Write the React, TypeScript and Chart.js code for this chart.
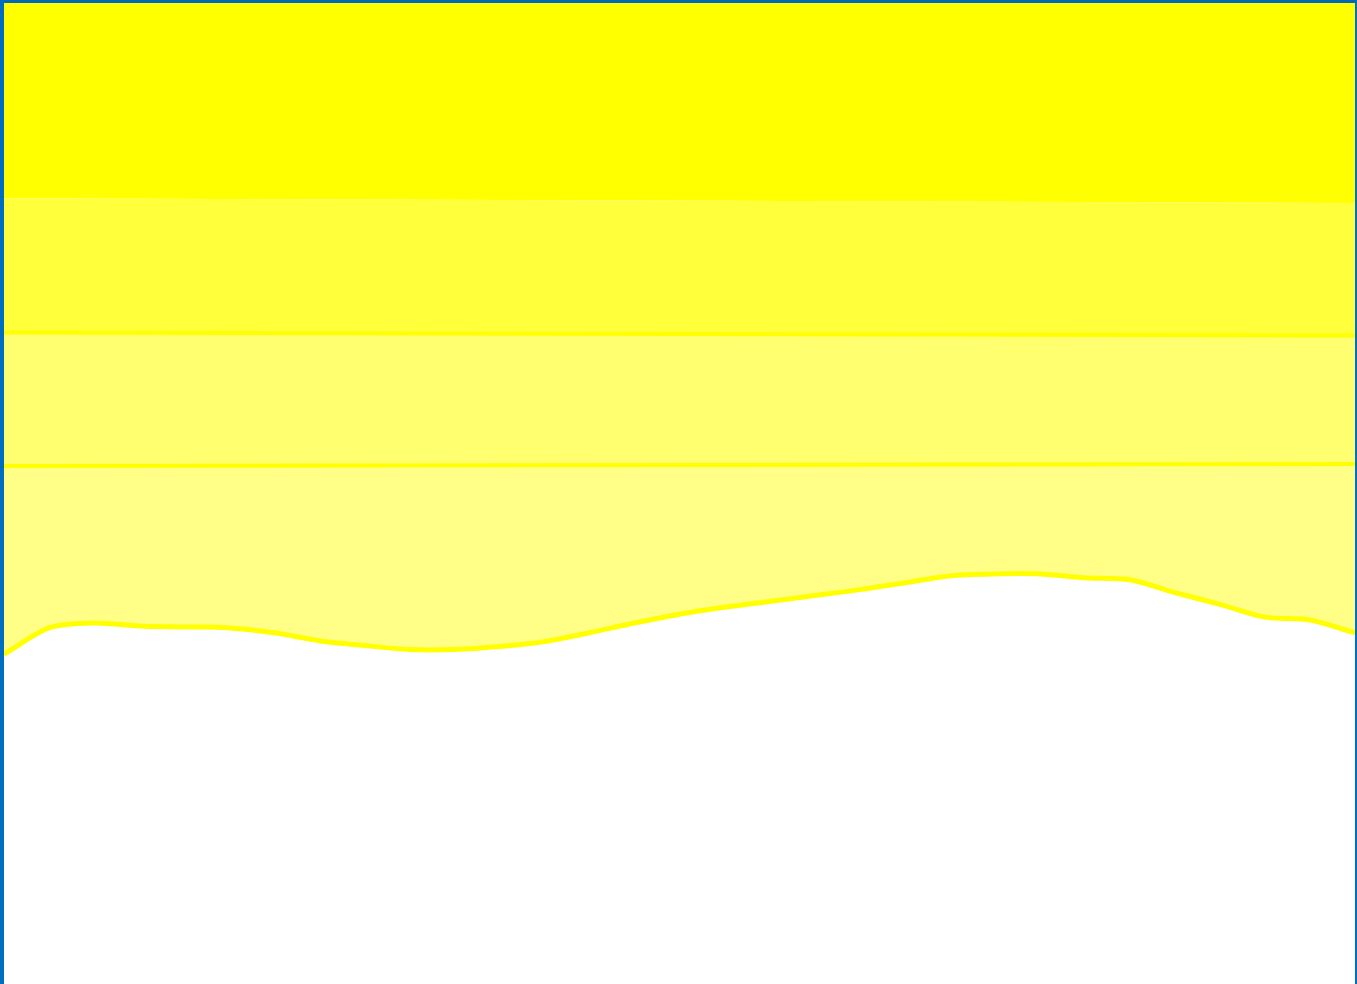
import React, { useEffect, useRef } from "react";
import { Chart, registerables } from "chart.js";

Chart.register(...registerables);

// x positions (0..30) and values of the wavy lower boundary (scale 0..100)
const wavyX = [0, 1, 2, 3, 4, 5, 6, 7, 8, 9, 10, 11, 12, 13, 14, 15, 16, 17, 18, 19, 20, 21, 22, 23, 24, 25, 26, 27, 28, 29, 30];
const wavyValues = [33.6, 36.3, 36.8, 36.5, 36.4, 36.3, 35.8, 35.0, 34.5, 34.1, 34.1, 34.4, 34.9, 35.8, 36.8, 37.7, 38.4, 39.0, 39.6, 40.2, 40.9, 41.6, 41.8, 41.8, 41.4, 41.2, 39.9, 38.7, 37.4, 37.1, 35.8];

// straight band boundaries: start and end values
const edgeX = [0, 30];
const lowerLine = [52.8, 53.0];
const middleLine = [66.4, 66.1];
const upperLine = [80.1, 79.6];

const toPoints = (xs: number[], ys: number[]) => xs.map((x, i) => ({ x, y: ys[i] }));

export default function App() {
  const ref = useRef<HTMLCanvasElement | null>(null);

  useEffect(() => {
    if (!ref.current) return;
    const chart = new Chart(ref.current, {
      type: "line",
      data: {
        datasets: [
          {
            data: toPoints(wavyX, wavyValues),
            borderColor: "#FFFF00",
            borderWidth: 5,
            backgroundColor: "#FFFF88",
            fill: "+1",
            tension: 0.3,
            pointRadius: 0,
          },
          {
            data: toPoints(edgeX, lowerLine),
            borderColor: "#FFFF00",
            borderWidth: 4,
            backgroundColor: "#FFFF70",
            fill: "+1",
            pointRadius: 0,
          },
          {
            data: toPoints(edgeX, middleLine),
            borderColor: "#FFFF00",
            borderWidth: 4,
            backgroundColor: "#FFFF3C",
            fill: "+1",
            pointRadius: 0,
          },
          {
            data: toPoints(edgeX, upperLine),
            borderColor: "rgba(255,255,0,0)",
            borderWidth: 0,
            backgroundColor: "#FFFF00",
            fill: "end",
            pointRadius: 0,
          },
        ],
      },
      options: {
        animation: false,
        responsive: false,
        devicePixelRatio: 1,
        layout: { padding: 0 },
        plugins: {
          legend: { display: false },
          tooltip: { enabled: false },
          filler: { drawTime: "beforeDatasetsDraw" },
        },
        scales: {
          x: { type: "linear", min: 0, max: 30, display: false },
          y: { type: "linear", min: 0, max: 100, display: false },
        },
      },
    });
    return () => chart.destroy();
  }, []);

  return (
    <div
      style={{
        position: "fixed",
        left: 0,
        top: 0,
        width: 1357,
        height: 984,
        boxSizing: "border-box",
        borderLeft: "4px solid #006EC0",
        borderTop: "3px solid #0068B4",
        borderRight: "2px solid #0070C4",
        background: "#FFFFFF",
        overflow: "hidden",
      }}
    >
      <canvas ref={ref} width={1351} height={981} style={{ display: "block" }} />
    </div>
  );
}
